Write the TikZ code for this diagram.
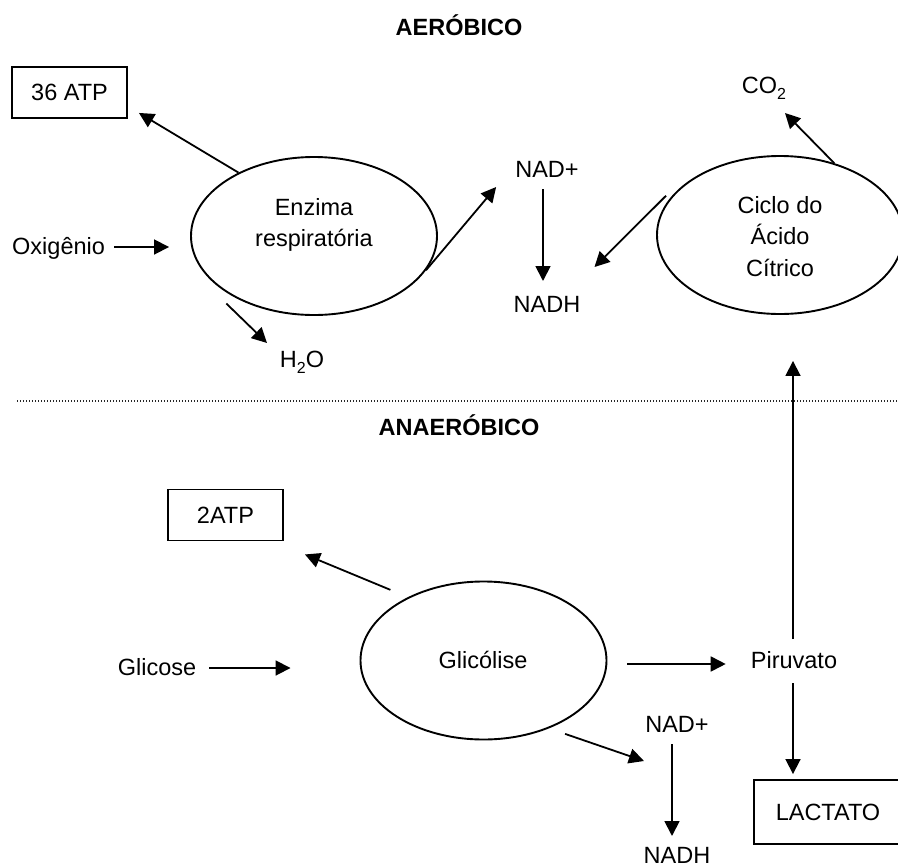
\documentclass[tikz,border=0pt]{standalone}
\usepackage{fontspec}
\setmainfont{Liberation Sans}
\usetikzlibrary{shapes.geometric,arrows.meta,calc}
\newcommand{\mysub}[1]{\raisebox{-6pt}{\fontsize{16}{16}\selectfont #1}}
\begin{document}
\begin{tikzpicture}[x=1pt,y=-1pt,
  txt/.style={inner sep=0pt, anchor=base, font=\fontsize{23.5}{31.5}\selectfont},
  head/.style={txt, font=\fontsize{23.5}{31.5}\selectfont\bfseries},
  box/.style={draw, line width=1.9pt, inner sep=0pt, minimum width=115pt, minimum height=51pt, font=\fontsize{23.5}{31.5}\selectfont},
  ell/.style={draw, ellipse, line width=1.9pt, inner sep=0pt, minimum width=246pt, minimum height=158pt},
  arr/.style={line width=1.8pt, -{Triangle[length=15pt,width=15pt]}},
  sep/.style={line width=1.1pt, black!85, dash pattern=on 1.1pt off 1.9pt}
]
\useasboundingbox (0,0) rectangle (898,868);
\clip (0,0) rectangle (898,868);

% ---------- AEROBICO ----------
\node[head] (aer) at (459,35) {AERÓBICO};
\node[box] (atp36) at (69.5,92.5) {36 ATP};
\node[ell] (enz) at (314,236) {};
\node[txt, anchor=center, align=center] (enzt) at (314,225) {Enzima\\respiratória};
\node[txt, anchor=base west] (oxi) at (12,254) {Oxigênio};
\node[txt] (h2o) at (302,367) {H\mysub{2}O};
\node[txt] (nadp1) at (547,177) {NAD+};
\node[txt] (nadh1) at (547,312) {NADH};
\node[ell] (cic) at (780,235) {};
\node[txt, anchor=center, align=center] (cict) at (780,236.5) {Ciclo do\\Ácido\\Cítrico};
\node[txt] (co2) at (764,93) {CO\mysub{2}};

\draw[arr] (enz.140) -- ($(atp36.south east)+(11,-6)$);
\draw[arr] ($(oxi.base east)+(9,-7)$) -- ($(enz.west)+(-21,11)$);
\draw[arr] ($(enz.south west)+(0,11)$) -- ($(h2o.base)+(-35,-24)$);
\draw[arr] (enz.-17) -- ($(nadp1.base west)+(-19,10)$);
\draw[arr] ($(nadp1.base)+(-4,12)$) -- ($(nadh1.base)+(-4,-31)$);
\draw[arr] ($(cic.160)+(-6,0)$) -- ($(nadh1.base east)+(14,-45)$);
\draw[arr] (cic.53) -- ($(co2.base)+(21,20)$);

% ---------- separator ----------
\draw[sep] (17,401) -- (898,401);

% ---------- ANAEROBICO ----------
\node[head] (anaer) at (459,435) {ANAERÓBICO};
\node[box] (atp2) at (225.5,515) {2ATP};
\node[txt] (glic) at (157,675) {Glicose};
\node[ell] (gly) at (483.5,660.5) {};
\node[txt] (glyt) at (483,668) {Glicólise};
\node[txt] (piru) at (794,668) {Piruvato};
\node[txt] (nadp2) at (677,732) {NAD+};
\node[txt] (nadh2) at (677,863) {NADH};
\node[box, minimum width=148pt, minimum height=64pt] (lac) at (828,812) {LACTATO};

\draw[arr, shorten <=19pt] (gly.140) -- ($(atp2.south east)+(21,13)$);
\draw[arr] ($(glic.base east)+(13,-7)$) -- ($(gly.west)+(-69,7.5)$);
\draw[arr] ($(gly.east)+(20,3.5)$) -- ($(piru.base west)+(-25,-4)$);
\draw[arr, shorten <=17pt] (gly.-46) -- ($(nadp2.base)+(-33,29)$);
\draw[arr] ($(nadp2.base)+(-5,12)$) -- ($(nadh2.base)+(-5,-27)$);
\draw[arr] ($(piru.base)+(-1,15)$) -- ($(lac.north)+(-35,-5)$);
\draw[arr] ($(piru.base)+(-1,-29)$) -- ($(cic.south)+(13,46)$);
\end{tikzpicture}
\end{document}
